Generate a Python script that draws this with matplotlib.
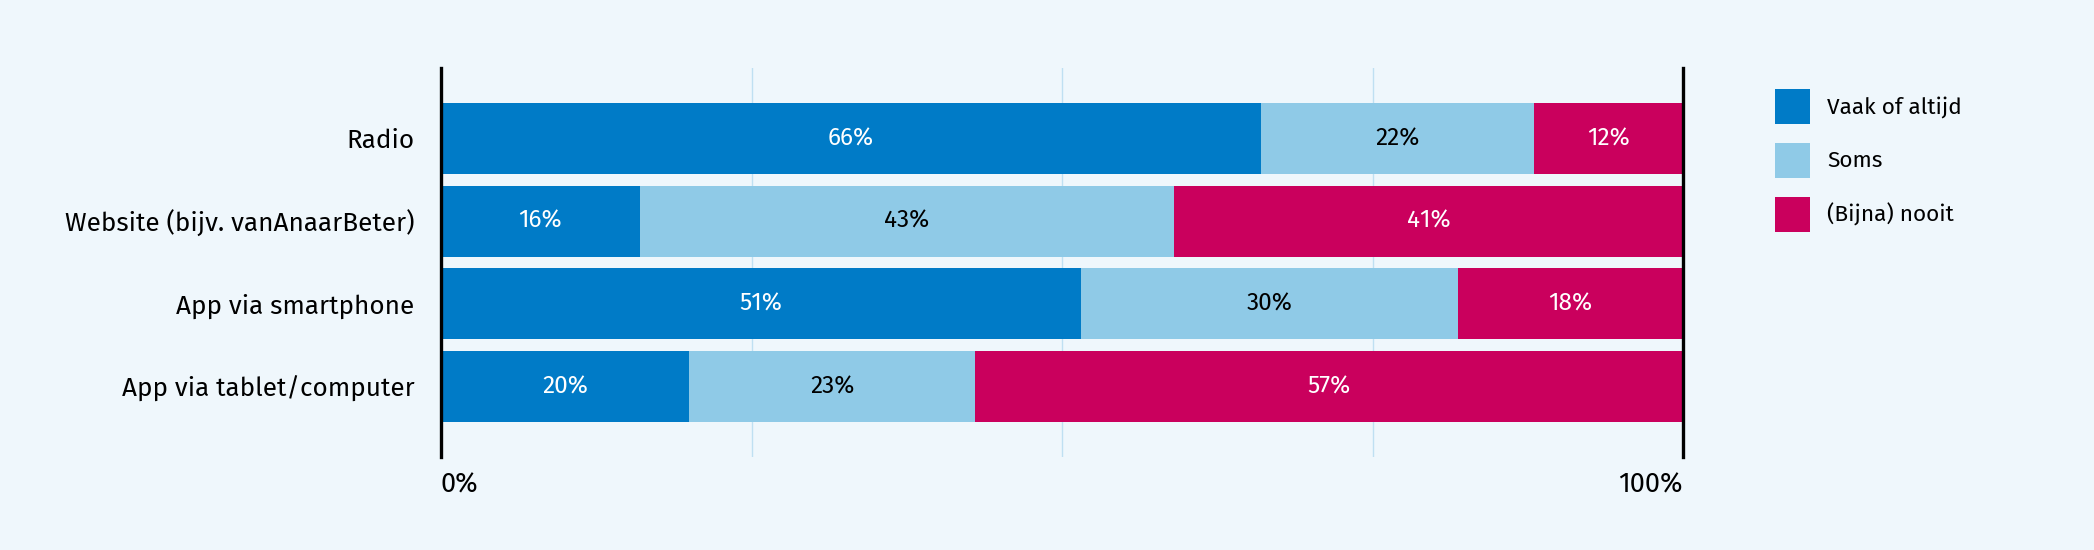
import matplotlib
matplotlib.use("Agg")
import matplotlib.pyplot as plt
from matplotlib.patches import Patch

categories = ["Radio", "Website (bijv. vanAnaarBeter)", "App via smartphone", "App via tablet/computer"]
series_names = ["Vaak of altijd", "Soms", "(Bijna) nooit"]
vaak = [66.0, 16.0, 51.5, 20.0]
soms = [22.0, 43.0, 30.4, 23.0]
nooit = [12.0, 41.0, 18.1, 57.0]
labels_vaak = ["66%", "16%", "51%", "20%"]
labels_soms = ["22%", "43%", "30%", "23%"]
labels_nooit = ["12%", "41%", "18%", "57%"]
xtick_values = [0, 100]
xtick_labels = ["0%", "100%"]

BG = "#eff7fc"
C_BLUE = "#007bc7"
C_LIGHT = "#8fcae7"
C_RED = "#ca005d"
REG = ["Fira Sans", "DejaVu Sans"]

fig = plt.figure(figsize=(20.94, 5.5), dpi=100, facecolor=BG)
ax = fig.add_axes([441 / 2094, 1 - 457 / 550, (1683 - 441) / 2094, (457 - 68) / 550])
ax.set_facecolor(BG)

y = list(range(len(categories)))
h = 0.857
series = [(vaak, labels_vaak, C_BLUE, "white"),
          (soms, labels_soms, C_LIGHT, "black"),
          (nooit, labels_nooit, C_RED, "white")]
left = [0.0] * len(categories)
for vals, labs, col, tcol in series:
    bars = ax.barh(y, vals, left=left, height=h, color=col, zorder=2, linewidth=0)
    ax.bar_label(bars, labels=labs, label_type="center", color=tcol,
                 fontsize=17.5, family=REG, zorder=3)
    left = [l + v for l, v in zip(left, vals)]

ax.set_xlim(0, 100)
ax.set_ylim(len(categories) - 1 + 0.85, -0.85)

for gx in [25, 50, 75]:
    ax.axvline(gx, color="#bfe0f2", linewidth=1.0, zorder=1)

for s in ["top", "bottom"]:
    ax.spines[s].set_visible(False)
for s in ["left", "right"]:
    ax.spines[s].set_linewidth(2.4)
    ax.spines[s].set_color("black")
    ax.spines[s].set_zorder(4)

ax.set_yticks(y)
ax.set_yticklabels(categories, fontsize=18.8, family=REG)
ax.tick_params(axis="y", length=0, pad=19)
ax.set_xticks(xtick_values)
ax.set_xticklabels(xtick_labels, fontsize=19.5, family=REG)
ax.tick_params(axis="x", length=0, pad=10)
xl = ax.get_xticklabels()
xl[0].set_horizontalalignment("left")
xl[-1].set_horizontalalignment("right")

handles = [Patch(facecolor=c, edgecolor="none") for c in [C_BLUE, C_LIGHT, C_RED]]
leg = fig.legend(handles, series_names, loc="upper left",
                 bbox_to_anchor=(1775 / 2094, 1 - 89 / 550),
                 frameon=False, borderpad=0, borderaxespad=0,
                 handlelength=1.55, handleheight=2.0, labelspacing=0.83,
                 handletextpad=0.75, prop={"family": REG, "size": 16.3})

fig.savefig("out.png", dpi=100, facecolor=BG)
